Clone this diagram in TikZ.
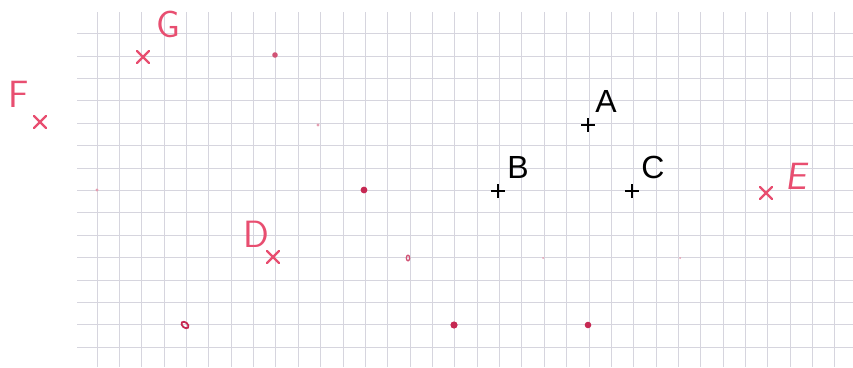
\documentclass[tikz,border=0pt]{standalone}
\usepackage{fontspec}
\setmainfont{Liberation Sans}
\definecolor{gridc}{RGB}{214,213,222}
\definecolor{ink}{RGB}{232,78,112}
\definecolor{dotc}{RGB}{198,40,82}
\tikzset{
  gridline/.style={gridc, line width=0.8pt},
  pluspic/.pic={\draw[black, line width=1.4pt] (-7,0) -- (7,0) (0,-7) -- (0,7);},
  xpic/.pic={\draw[ink, line width=2.4pt, line cap=round] (-6,-6) -- (6,6) (-6,6) -- (6,-6);},
  blacklabel/.style={black, inner sep=0pt, font=\fontsize{32}{32}\selectfont},
  redlabel/.style={ink, inner sep=0pt, font=\sffamily\fontsize{38}{38}\selectfont},
  dot/.style={fill=dotc},
  faintdot/.style={fill=dotc!45}
}
\begin{document}
\begin{tikzpicture}[x=1pt,y=-1pt]
\useasboundingbox (0,0) rectangle (853,367);
% grid
\foreach \k in {0,...,33} {
  \draw[gridline] ({97+22.36*\k},12) -- ({97+22.36*\k},367);
}
\foreach \k in {0,...,14} {
  \draw[gridline] (77,{33.5+22.4*\k}) -- (853,{33.5+22.4*\k});
}
% black points
\coordinate (A) at (588,125);
\coordinate (B) at (498,191);
\coordinate (C) at (632,191);
\pic at (A) {pluspic};
\pic at (B) {pluspic};
\pic at (C) {pluspic};
\node[blacklabel] (lA) at (606,101) {A};
\node[blacklabel] (lB) at (518,167) {B};
\node[blacklabel] (lC) at (653,167) {C};
% red crosses
\coordinate (G) at (143,57);
\coordinate (F) at (40,122);
\coordinate (D) at (273,257);
\coordinate (E) at (766,193);
\pic at (G) {xpic};
\pic at (F) {xpic};
\pic at (D) {xpic};
\pic at (E) {xpic};
\node[redlabel] (lG) at (168,24) {G};
\node[redlabel] (lF) at (19,94) {F};
\node[redlabel] (lD) at (256,234) {D};
\node[redlabel, xslant=0.15] (lE) at (798,176) {E};
% dots
\fill[dot] (364,190) circle (3.4);
\fill[dot] (454,325) circle (3.6);
\fill[dot] (588,325) circle (3.3);
\fill[fill=dotc!80] (275,55) circle (2.8);
\fill[faintdot] (318,125) circle (1.6);
\fill[faintdot] (97,190) circle (1.6);
\draw[dotc!80, line width=1.3pt] (408,258) ellipse (1.7 and 2.8);
\draw[dotc, line width=1.8pt, rotate around={-40:(185,325)}] (185,325) ellipse (4 and 2.6);
\fill[faintdot] (543,258) circle (1);
\fill[faintdot] (680,258) circle (1);
\end{tikzpicture}
\end{document}
